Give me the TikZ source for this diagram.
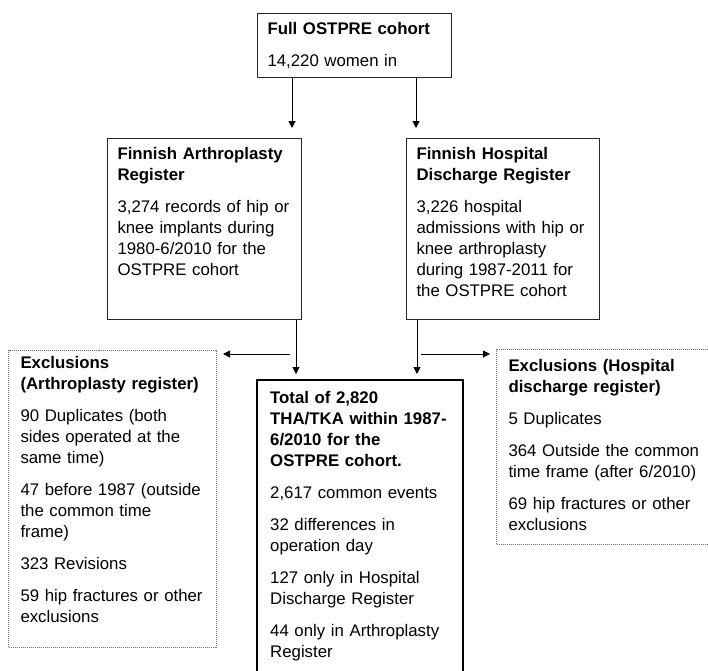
\documentclass[tikz,border=0pt]{standalone}
\usepackage{fontspec}
\setmainfont{Liberation Sans}
\usetikzlibrary{arrows.meta}
\usetikzlibrary{calc}

\begin{document}
\begin{tikzpicture}[x=1pt,y=-1pt,
	box/.style={draw=black!85,line width=1pt,anchor=north west,align=left,
		font=\fontsize{16.8}{21}\selectfont,inner xsep=10pt,inner ysep=9pt,text height=12pt},
	mainbox/.style={box,draw=black,line width=2.4pt,inner xsep=13pt,inner ysep=11pt},
	exclbox/.style={box,draw=black!55,dash pattern=on 1pt off 1pt,inner xsep=12pt},
	arr/.style={-{Triangle[length=7pt,width=7pt]},line width=1pt}]
	
	\useasboundingbox (0,0) rectangle (708,670);
	
	% --- cohort ---
	\node[box,text width=174pt,text depth=34pt] (full) at (257,13)
	{\textbf{Full OSTPRE cohort}\\[11pt]14,220 women in};
	
	% --- registers ---
	\node[box,text width=174pt,text depth=151pt] (farr) at (107,138)
	{\textbf{Finnish Arthroplasty}\\\textbf{Register}\\[11pt]
		3,274 records of hip or\\knee implants during\\1980-6/2010 for the\\OSTPRE cohort};
	\node[box,text width=173pt,text depth=151pt] (fhdr) at (406,138)
	{\textbf{Finnish Hospital}\\\textbf{Discharge Register}\\[11pt]
		3,226 hospital\\admissions with hip or\\knee arthroplasty\\during 1987-2011 for\\the OSTPRE cohort};
	
	% --- combined ---
	\node[mainbox,text width=180pt,text depth=276pt] (total) at (256,379)
	{\textbf{Total of 2,820}\\\textbf{THA/TKA within 1987-}\\\textbf{6/2010 for the}\\\textbf{OSTPRE cohort.}\\[11pt]
		2,617 common events\\[11pt]
		32 differences in\\operation day\\[11pt]
		127 only in Hospital\\Discharge Register\\[11pt]
		44 only in Arthroplasty\\Register};
	
	% --- exclusions ---
	\node[exclbox,text width=184pt,text depth=273pt,inner ysep=6pt] (exarth) at (8,350)
	{\textbf{Exclusions}\\\textbf{(Arthroplasty register)}\\[11pt]
		90 Duplicates (both\\sides operated at the\\same time)\\[11pt]
		47 before 1987 (outside\\the common time\\frame)\\[11pt]
		323 Revisions\\[11pt]
		59 hip fractures or other\\exclusions};
	\node[exclbox,text width=196pt,text depth=163pt,inner ysep=10pt] (exhosp) at (496,349)
	{\textbf{Exclusions (Hospital}\\\textbf{discharge register)}\\[11pt]
		5 Duplicates\\[11pt]
		364 Outside the common\\time frame (after 6/2010)\\[11pt]
		69 hip fractures or other\\exclusions};
	
	% arrows down
	\draw[arr,shorten >=10pt] ([xshift=35pt]full.south west) -- ([xshift=35pt]full.south west |- farr.north);
	\draw[arr,shorten >=10pt] ([xshift=10pt]fhdr.north west |- full.south) -- ([xshift=10pt]fhdr.north west);
	\draw[arr,shorten >=5pt] ([xshift=-6pt]farr.south east) -- ([xshift=-6pt]farr.south east |- total.north);
	\draw[arr,shorten >=5pt] ([xshift=11pt]fhdr.south west) -- ([xshift=11pt]fhdr.south west |- total.north);
	
	% arrows to exclusions
	\coordinate (splitA) at (290,354);
	\coordinate (splitB) at (421,354);
	\draw[arr,shorten >=6pt] (splitA) -- (splitA -| exarth.east);
	\draw[arr,shorten >=6pt] (splitB) -- (splitB -| exhosp.west);
	
\end{tikzpicture}
\end{document}
